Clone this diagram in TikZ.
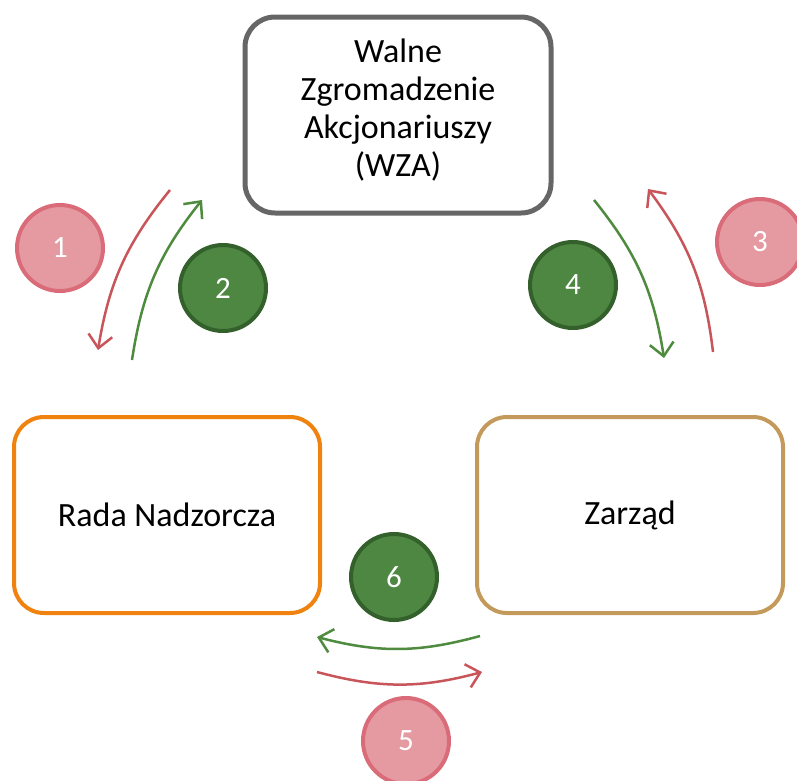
\documentclass[tikz,border=0pt]{standalone}
\usepackage{fontspec}
\setmainfont{Carlito}
\usetikzlibrary{arrows.meta}

\definecolor{wzagray}{HTML}{666666}
\definecolor{rnorange}{HTML}{F0820F}
\definecolor{zartan}{HTML}{C49A5C}
\definecolor{pinkfill}{HTML}{E59AA2}
\definecolor{pinkline}{HTML}{D96C78}
\definecolor{greenfill}{HTML}{4D8741}
\definecolor{greenline}{HTML}{33602B}
\definecolor{redarrow}{HTML}{C8555A}
\definecolor{greenarrow}{HTML}{4E8B3E}

\begin{document}
\begin{tikzpicture}[x=1pt, y=-1pt,
  organ/.style={draw, rounded corners=30pt, fill=white, minimum width=306pt,
    minimum height=196pt, align=center, font=\fontsize{34}{38}\selectfont},
  redcirc/.style={circle, draw=pinkline, fill=pinkfill, line width=4pt,
    minimum size=86pt, text=white, font=\fontsize{31}{34}\selectfont},
  greencirc/.style={circle, draw=greenline, fill=greenfill, line width=4pt,
    minimum size=86pt, text=white, font=\fontsize{31}{34}\selectfont},
  redarr/.style={draw=redarrow, line width=2.5pt,
    -{Straight Barb[length=13pt, width=24pt, line width=2.5pt]}},
  greenarr/.style={draw=greenarrow, line width=2.5pt,
    -{Straight Barb[length=13pt, width=24pt, line width=2.5pt]}}]
  \useasboundingbox (0,0) rectangle (797,780);

  % the three bodies
  \node[organ, draw=wzagray, line width=5pt] (wza) at (398,115) {};
  \node[align=center, font=\fontsize{34}{38}\selectfont] (wzatext) at (398,110)
    {Walne\\Zgromadzenie\\Akcjonariuszy\\(WZA)};
  \node[organ, draw=rnorange, line width=4pt] (rada) at (167,515) {Rada Nadzorcza};
  \node[organ, draw=zartan, line width=4pt] (zarzad) at (630,515) {Zarząd};

  % arrow ends
  \coordinate (a1s) at (170,190);  \coordinate (a1e) at (98,350);
  \coordinate (a2s) at (132,360);  \coordinate (a2e) at (202,200);
  \coordinate (a3s) at (713,352);  \coordinate (a3e) at (648,189);
  \coordinate (a4s) at (594,200);  \coordinate (a4e) at (664,358);
  \coordinate (a5s) at (317,672);  \coordinate (a5e) at (482,672);
  \coordinate (a6s) at (480,636);  \coordinate (a6e) at (317,637);

  \draw[redarr] (a1s) to[bend right=15] (a1e);
  \draw[greenarr] (a2s) to[bend left=15] (a2e);
  \draw[redarr] (a3s) to[bend right=15] (a3e);
  \draw[greenarr] (a4s) to[bend left=15] (a4e);
  \draw[redarr] (a5s) to[bend right=15] (a5e);
  \draw[greenarr] (a6s) to[bend left=15] (a6e);

  % numbered steps
  \node[redcirc] (n1) at (60,248) {1};
  \node[greencirc] (n2) at (223,288) {2};
  \node[redcirc] (n3) at (760,242) {3};
  \node[greencirc] (n4) at (573,285) {4};
  \node[redcirc] (n5) at (406,741) {5};
  \node[greencirc] (n6) at (394,577) {6};

\end{tikzpicture}
\end{document}
